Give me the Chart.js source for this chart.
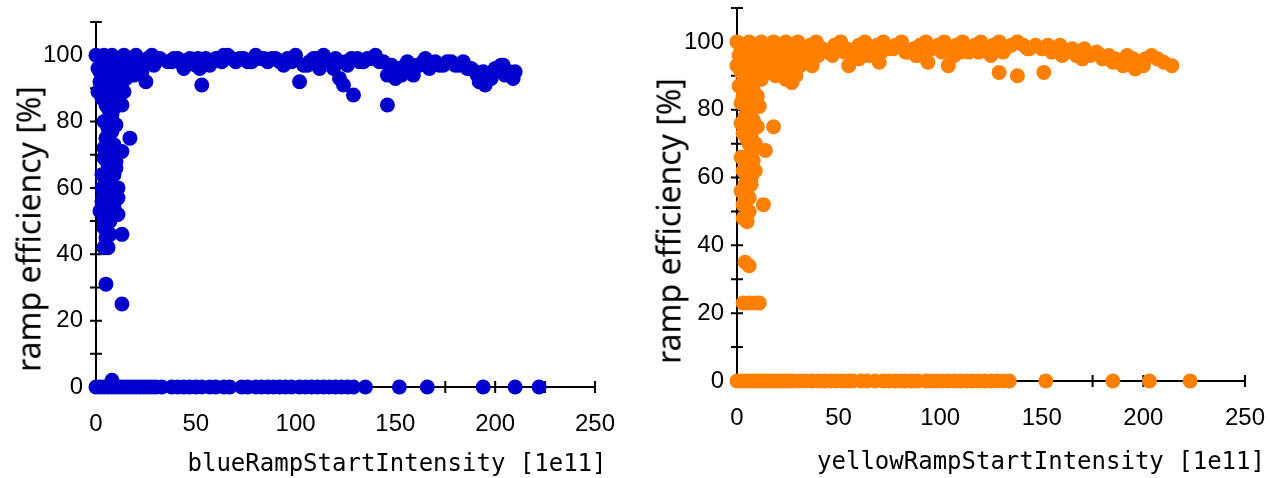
<!DOCTYPE html>
<html>
<head>
<meta charset="utf-8">
<script src="https://cdn.jsdelivr.net/npm/chart.js@4.4.1/dist/chart.umd.min.js"></script>
<style>
    html, body { margin: 0; padding: 0; background: #fff; }
    #wrap { position: relative; width: 1270px; height: 478px; overflow: hidden; }
    .panel { position: absolute; top: -30px; height: 508px; }
    .ytitle {
        position: absolute; white-space: nowrap;
        font-family: "Noto Sans", sans-serif; font-size: 32px; color: #000;
        transform: translate(-50%, -50%) rotate(-90deg);
    }
    .xtitle {
        position: absolute; white-space: nowrap;
        font-family: "DejaVu Sans Mono", monospace; font-size: 24px; color: #000;
        transform: translate(-50%, -50%);
    }
</style>
</head>
<body>
<div id="wrap">
    <div class="panel" style="left:0;width:638px"><canvas id="graficoBlue"></canvas></div>
    <div class="panel" style="left:640px;width:648px"><canvas id="graficoYellow"></canvas></div>
    <div class="ytitle" style="left:28px;top:229px">ramp efficiency [%]</div>
    <div class="xtitle" style="left:397px;top:463px">blueRampStartIntensity [1e11]</div>
    <div class="ytitle" style="left:668px;top:221px">ramp efficiency [%]</div>
    <div class="xtitle" style="left:1041px;top:461px">yellowRampStartIntensity [1e11]</div>
</div>
<script>
// eixo X: 0..250, rótulos a cada 50, marcas a cada 25
const xTicks = [0, 50, 100, 150, 200, 250];
// eixo Y: 0..110, rótulos a cada 20, marcas a cada 10
const yTicks = [0, 20, 40, 60, 80, 100];

// blue ramp: pontos com eficiência zero
const blueZeroX = [0, 2, 4, 6, 8, 10, 12, 14, 16, 18, 20, 22, 24, 26, 28, 30, 33,
    38, 41, 44, 47, 50, 53, 57, 60, 64, 67, 73, 76, 80, 83, 86, 89, 92, 95, 98,
    102, 105, 108, 111, 114, 117, 120, 123, 126, 129, 135, 152, 166, 194, 210, 222];
// blue ramp: demais pontos
const blueX = [8,
    0, 2, 4, 6, 8, 10, 12, 14, 16, 18, 20, 22, 24, 26, 28, 30, 32,
    1, 3, 5, 7, 9, 11, 13, 15, 17, 19, 2, 4, 1, 6, 8, 10, 12, 14, 25, 23, 29,
    38, 41, 44, 47, 50, 52, 55, 58, 60, 64, 68, 72, 76, 80, 84, 88, 92, 96, 100, 53, 44,
    102, 104, 107, 110, 112, 114, 117, 120, 122, 124, 126, 129, 128, 132, 136, 140, 144, 146, 146, 148,
    150, 153, 156, 159, 162, 165, 170, 174, 178, 182, 186, 190, 192, 195, 197, 200, 203, 205, 208, 210,
    36, 39, 42, 45, 48, 51, 54, 57, 61, 63, 66, 70, 74, 78, 82, 86, 90, 94, 98, 106,
    109, 116, 119, 125, 131, 134, 138, 142, 152, 155, 158, 161, 164, 167, 172, 176, 180, 184, 188, 191,
    194, 198, 201, 204, 207, 209,
    3, 5, 7, 9, 13, 4, 6, 8, 10, 5, 7, 9, 17, 13, 4, 6, 8, 10, 3, 5, 7, 8, 11, 4, 6, 3, 9, 2, 5, 11,
    7, 4, 13, 5, 6, 4, 5, 13,
    2, 4, 6, 8, 10, 12, 3, 5, 7, 9, 11, 13, 8, 10, 6, 4, 6, 8, 10, 3, 6, 9, 11, 4, 7, 9];
const blueY = [2,
    100, 99, 100, 98, 100, 99, 97, 100, 98, 99, 100, 98, 97, 99, 100, 98, 99,
    96, 95, 97, 94, 96, 95, 97, 93, 96, 94, 92, 90, 89, 91, 88, 92, 90, 89, 92, 95, 97,
    98, 99, 98, 99, 97, 96, 99, 98, 99, 100, 99, 99, 98, 100, 99, 99, 98, 99, 100, 91, 96,
    92, 97, 98, 99, 96, 100, 98, 99, 93, 91, 97, 88, 99, 98, 99, 100, 98, 94, 85, 97,
    93, 94, 98, 94, 97, 99, 98, 97, 98, 97, 96, 95, 92, 91, 93, 96, 97, 94, 94, 95,
    98, 99, 98, 97, 98, 99, 98, 97, 99, 98, 100, 98, 99, 98, 99, 98, 99, 97, 98, 97,
    99, 98, 96, 98, 99, 98, 99, 98, 96, 97, 95, 97, 98, 96, 97, 98, 97, 98, 96, 94,
    95, 93, 95, 97, 95, 93,
    87, 85, 83, 84, 85, 80, 78, 77, 79, 75, 72, 73, 75, 71, 69, 67, 66, 68, 64, 62, 63, 60, 60, 58, 56, 56, 55, 53, 52, 52,
    50, 48, 46, 45, 42, 42, 31, 25,
    95, 93, 95, 93, 95, 93, 90, 88, 90, 90, 88, 92, 82, 86, 84, 72, 74, 70, 66, 60, 58, 64, 57, 50, 46, 54];

// yellow ramp: pontos com eficiência zero
const yellowZeroX = [0, 2, 4, 6, 8, 10, 12, 14, 16, 18, 20, 22, 24, 26, 28, 31,
    34, 37, 40, 43, 46, 49, 52, 55, 57, 61, 64, 68, 72, 75, 78, 81, 83, 86, 89, 93,
    95, 98, 101, 104, 107, 110, 113, 116, 119, 122, 125, 128, 131, 134, 152, 185, 203, 223];
// yellow ramp: demais pontos
const yellowX = [0, 2, 4, 6, 8, 10, 12, 14, 16, 18, 20, 22, 24, 26, 28, 30, 33, 36, 39, 42,
    45, 48, 51, 54, 57, 60, 63, 66, 69, 72, 75, 78, 81, 84, 87, 90, 93, 96, 99, 102,
    105, 108, 111, 114, 117, 120, 123, 126, 129, 132, 135, 138, 141, 144, 147, 150, 153, 156, 159, 162,
    165, 168, 171, 174, 177, 180, 183, 186, 189, 192, 195, 198, 201, 204, 207, 210, 214,
    1, 3, 5, 7, 9, 11, 13, 15, 2, 4, 6, 8, 10, 12, 14, 1, 3, 17, 20, 23, 26, 27, 29, 31,
    37, 40, 55, 60, 65, 70, 88, 94, 104, 110, 125, 129, 138, 151, 160, 170, 185, 190, 196, 200,
    3, 5, 7, 9, 11, 4, 6, 8, 10, 18, 3, 5, 7, 9, 14, 4, 6, 8, 3, 5, 7, 4, 6, 3, 13, 5, 5,
    4, 6, 3, 6, 9, 11,
    0, 2, 4, 6, 8, 10, 12, 14, 16, 18, 20, 22, 24, 26, 28, 30, 32, 34, 19, 21, 24, 16,
    35, 41, 47, 53, 59, 65, 71, 77, 83, 89, 95, 101, 107, 113, 119, 131, 143, 155, 167, 179,
    2, 4, 6, 8, 10, 2, 4, 6, 8, 2, 4, 6, 2, 4, 6, 3, 5, 7, 9, 5, 7];
const yellowY = [100, 98, 99, 100, 97, 99, 100, 98, 99, 100, 98, 99, 100, 97, 99, 100, 98, 99, 100, 98,
    97, 99, 100, 98, 97, 99, 100, 98, 99, 100, 98, 99, 100, 97, 98, 99, 100, 98, 99, 100,
    98, 99, 100, 97, 99, 100, 98, 99, 100, 98, 99, 100, 99, 98, 99, 98, 99, 98, 99, 97,
    98, 97, 98, 96, 97, 95, 96, 95, 94, 96, 95, 94, 95, 96, 95, 94, 93,
    96, 94, 95, 93, 96, 94, 95, 93, 91, 89, 90, 88, 91, 89, 91, 87, 86, 93, 95, 92, 94, 88, 90, 93,
    93, 96, 93, 95, 96, 94, 96, 94, 93, 97, 96, 91, 90, 91, 96, 95, 94, 93, 92, 93,
    84, 82, 80, 83, 81, 78, 76, 77, 75, 75, 73, 71, 72, 70, 68, 66, 64, 65, 62, 60, 58, 56, 54, 52, 52, 50, 47,
    35, 34, 23, 23, 23, 23,
    93, 96, 92, 97, 94, 97, 92, 96, 95, 97, 93, 96, 94, 91, 96, 95, 97, 95, 90, 92, 89, 91,
    97, 98, 96, 97, 98, 96, 97, 98, 97, 96, 98, 97, 96, 98, 97, 97, 98, 97, 96, 96,
    82, 86, 84, 86, 84, 76, 74, 70, 68, 66, 62, 62, 56, 58, 50, 48, 55, 60, 62, 66, 68];

function pares(xs, ys) {
    return xs.map((x, i) => ({ x: x, y: ys ? ys[i] : 0 }));
}

// eixos em cruz, como no gráfico original
const eixosCruz = {
    id: 'eixosCruz',
    beforeDatasetsDraw(chart) {
        const { ctx, scales: { x, y } } = chart;
        ctx.save();
        ctx.strokeStyle = '#000';
        ctx.lineWidth = 2;
        ctx.beginPath();
        ctx.moveTo(x.left, y.bottom);
        ctx.lineTo(x.right, y.bottom);
        ctx.moveTo(x.left, y.top);
        ctx.lineTo(x.left, y.bottom);
        x.ticks.forEach(t => {
            const px = x.getPixelForValue(t.value);
            ctx.moveTo(px, y.bottom - 6);
            ctx.lineTo(px, y.bottom + 6);
        });
        y.ticks.forEach(t => {
            const py = y.getPixelForValue(t.value);
            ctx.moveTo(x.left - 6, py);
            ctx.lineTo(x.left + 6, py);
        });
        ctx.stroke();
        ctx.restore();
    }
};

function criarGrafico(id, cor, pontos, zeros, layout) {
    const fonteTicks = { family: 'Liberation Sans', size: 24 };
    return new Chart(document.getElementById(id), {
        type: 'scatter',
        data: {
            datasets: [
                { data: zeros, backgroundColor: cor, borderWidth: 0, pointRadius: 7.5, clip: false },
                { data: pontos, backgroundColor: cor, borderWidth: 0, pointRadius: 7.5, clip: false }
            ]
        },
        options: {
            responsive: true,
            maintainAspectRatio: false,
            animation: false,
            layout: { padding: { left: 0, right: layout.right, top: layout.top, bottom: 0 } },
            plugins: { legend: { display: false }, tooltip: { enabled: false } },
            scales: {
                x: {
                    type: 'linear', min: 0, max: 250,
                    afterFit: s => { s.height = layout.xHeight; },
                    grid: { display: false, drawTicks: false },
                    border: { display: false },
                    ticks: {
                        stepSize: 25, autoSkip: false, maxRotation: 0, padding: 23,
                        color: '#000', font: fonteTicks,
                        callback: v => xTicks.includes(v) ? String(v) : ''
                    }
                },
                y: {
                    type: 'linear', min: 0, max: 110,
                    afterFit: s => { s.width = layout.yWidth; },
                    grid: { display: false, drawTicks: false },
                    border: { display: false },
                    ticks: {
                        stepSize: 10, autoSkip: false, padding: 13,
                        color: '#000', font: fonteTicks,
                        callback: v => yTicks.includes(v) ? String(v) : ''
                    }
                }
            }
        },
        plugins: [eixosCruz]
    });
}

criarGrafico('graficoBlue', '#0000cc', pares(blueX, blueY), pares(blueZeroX),
    { right: 40, top: 52, xHeight: 91, yWidth: 96 });
criarGrafico('graficoYellow', '#ff8000', pares(yellowX, yellowY), pares(yellowZeroX),
    { right: 40, top: 38, xHeight: 97, yWidth: 97 });
</script>
</body>
</html>
